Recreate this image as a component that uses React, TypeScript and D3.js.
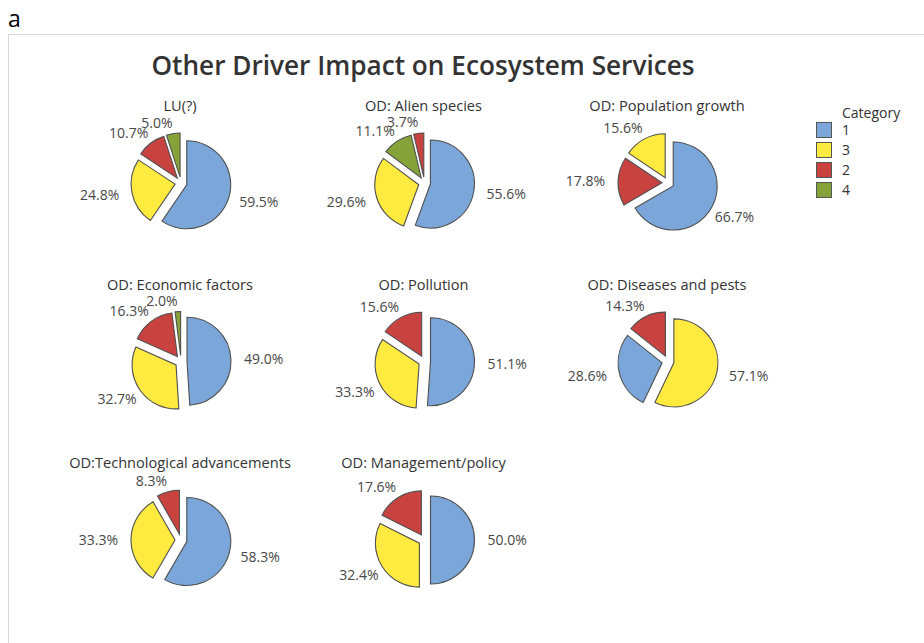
import React from 'react';
import * as d3 from 'd3';

// ---- Data ----
const panelTitles = [
  'LU(?)',
  'OD: Alien species',
  'OD: Population growth',
  'OD: Economic factors',
  'OD: Pollution',
  'OD: Diseases and pests',
  'OD:Technological advancements',
  'OD: Management/policy',
];
const categories = ['1', '3', '2', '4'];
const cat1Values = [59.5, 55.6, 66.7, 49.0, 51.1, 28.6, 58.3, 50.0];
const cat3Values = [24.8, 29.6, 15.6, 32.7, 33.3, 57.1, 33.3, 32.4];
const cat2Values = [10.7, 3.7, 17.8, 16.3, 15.6, 14.3, 8.3, 17.6];
const cat4Values = [5.0, 11.1, 0, 2.0, 0, 0, 0, 0];
const seriesByCategory = [cat1Values, cat3Values, cat2Values, cat4Values];
const categoryColors = ['#7BA6DA', '#FFEA3F', '#C8423F', '#86A33A'];

const FONT = "'Open Sans', 'Noto Sans', sans-serif";
const W = 924;
const H = 643;
const R = 44;
const EXPLODE = 6;

type Slice = { cat: string; value: number; color: string };

const xScale = d3.scaleLinear().domain([0, 2]).range([181, 668]);
const yScale = d3.scaleLinear().domain([0, 2]).range([183, 540]);
const colorScale = d3.scaleOrdinal<string, string>().domain(categories).range(categoryColors);

const pieGen = d3.pie<Slice>().value((d) => d.value);
const arcGen = d3.arc<d3.PieArcDatum<Slice>>().innerRadius(0).outerRadius(R);

function Panel({ idx }: { idx: number }) {
  const cx = xScale(idx % 3);
  const cy = yScale(Math.floor(idx / 3));
  const slices: Slice[] = categories
    .map((cat, ci) => ({ cat, value: seriesByCategory[ci][idx], color: colorScale(cat) }))
    .filter((d) => d.value > 0);
  const arcs = pieGen(slices);
  return (
    <g transform={`translate(${cx},${cy})`}>
      <text
        x={-1}
        y={-77}
        dy="0.35em"
        textAnchor="middle"
        fontFamily={FONT}
        fontSize={14.6}
        fill="#333"
      >
        {panelTitles[idx]}
      </text>
      {arcs.map((a, i) => {
        const mid = (a.startAngle + a.endAngle) / 2;
        const s = Math.sin(mid);
        const c = Math.cos(mid);
        return (
          <path
            key={i}
            d={arcGen(a) || ''}
            transform={`translate(${EXPLODE * s},${-EXPLODE * c})`}
            fill={a.data.color}
            stroke="#505050"
            strokeWidth={1.1}
          />
        );
      })}
      {arcs.map((a, i) => {
        const mid = (a.startAngle + a.endAngle) / 2;
        const s = Math.sin(mid);
        const c = Math.cos(mid);
        const t = Math.max(0, Math.min(1, (Math.abs(s) - 0.88) / 0.1));
        const rl = 54 + 9 * t;
        const x = rl * s;
        const y = -rl * c + 7 * -Math.sign(c) * (1 - t);
        return (
          <text
            key={'l' + i}
            x={x}
            y={y}
            dy="0.35em"
            textAnchor={s >= 0 ? 'start' : 'end'}
            fontFamily={FONT}
            fontSize={14}
            fill="#484848"
          >
            {a.data.value.toFixed(1) + '%'}
          </text>
        );
      })}
    </g>
  );
}

export default function App() {
  return (
    <svg
      width={W}
      height={H}
      style={{ position: 'absolute', left: 0, top: 0, background: '#fff' }}
    >
      <rect x={0} y={0} width={W} height={H} fill="#fff" />
      <text x={8} y={27} fontFamily={FONT} fontSize={23} fill="#000">
        a
      </text>
      <rect x={8.5} y={34.5} width={W + 20} height={H + 20} fill="none" stroke="#d6d6d6" />
      <text
        x={423}
        y={75}
        textAnchor="middle"
        fontFamily={FONT}
        fontSize={26.2}
        fontWeight={600}
        fill="#333"
      >
        Other Driver Impact on Ecosystem Services
      </text>
      {panelTitles.map((_, i) => (
        <Panel key={i} idx={i} />
      ))}
      <g>
        <text x={842} y={113} dy="0.35em" fontFamily={FONT} fontSize={14} fill="#333">
          Category
        </text>
        {categories.map((cat, i) => (
          <g key={cat} transform={`translate(816,${122 + i * 20})`}>
            <rect x={0.5} y={0.5} width={15} height={15} fill={colorScale(cat)} stroke="#555" />
            <text x={26} y={8} dy="0.35em" fontFamily={FONT} fontSize={14} fill="#333">
              {cat}
            </text>
          </g>
        ))}
      </g>
    </svg>
  );
}
